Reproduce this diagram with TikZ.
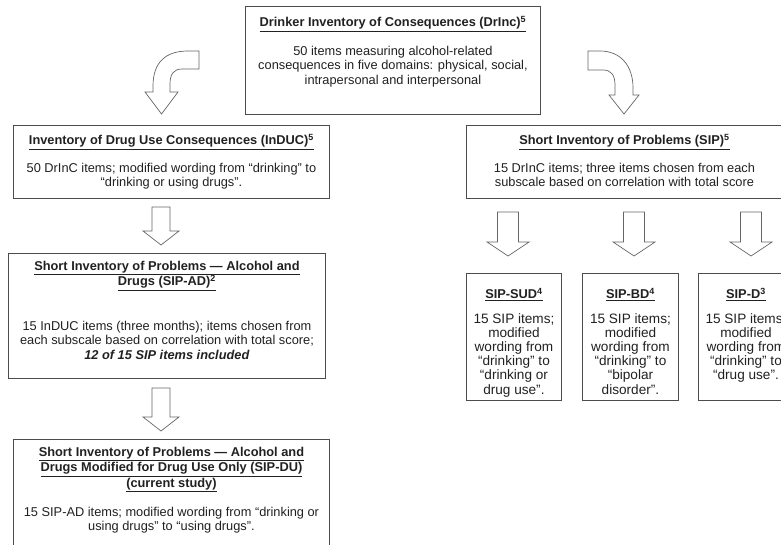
\documentclass[tikz,border=0pt]{standalone}
\usepackage{fontspec}
\setmainfont{Liberation Sans}
\usetikzlibrary{positioning, calc}

\newcommand\txtfont{\fontsize{12.8}{14.3}\selectfont}
\newcommand\ttlfont{\fontsize{12.8}{15.5}\selectfont\bfseries}
% block arrow: start, tip, shaft half width, head half width
\newcommand\fatarrow[4]{%
  \draw[fatarrow] let \p1=(#1), \p2=(#2) in
    (\x1-#3,\y1) -- (\x1+#3,\y1) -- (\x1+#3,\y2+14pt) -- (\x1+#4,\y2+14pt)
    -- (\x1,\y2) -- (\x1-#4,\y2+14pt) -- (\x1-#3,\y2+14pt) -- cycle;}

\tikzset{
  box/.style={draw=black!70, line width=0.9pt, anchor=north west, inner sep=0pt},
  ttlnode/.style={font=\ttlfont, align=center, anchor=north, inner sep=0pt, text=black!87},
  txtnode/.style={font=\txtfont, align=center, anchor=north, inner sep=0pt, text=black!87},
  subnode/.style={txtnode, font=\fontsize{13.6}{14.2}\selectfont},
  fatarrow/.style={draw=black!60, line width=0.7pt, fill=white, line join=miter}
}

\begin{document}
\begin{tikzpicture}[x=1pt, y=-1pt]
  \useasboundingbox (0,0) rectangle (781,545);
  \clip (0,0) rectangle (781,545);
  \fill[white] (0,0) rectangle (781,545);

  % boxes
  \node[box, minimum width=295pt, minimum height=108pt] (drinc) at (245,6) {};
  \node[box, minimum width=316pt, minimum height=73pt] (induc) at (13,125) {};
  \node[box, minimum width=316pt, minimum height=73pt] (sip) at (466,125) {};
  \node[box, minimum width=317pt, minimum height=125pt] (sipad) at (8,253) {};
  \node[box, minimum width=316pt, minimum height=130pt] (sipdu) at (13,439) {};
  \node[box, minimum width=95pt, minimum height=127pt] (sipsud) at (466,273) {};
  \node[box, minimum width=96pt, minimum height=127pt] (sipbd) at (582,273) {};
  \node[box, minimum width=95pt, minimum height=127pt] (sipd) at (698,273) {};

  % texts
  \node[ttlnode] (drinc-t) at ([yshift=-10pt]drinc.north)
    {\underline{Drinker Inventory of Consequences (DrInc)\textsuperscript{5}}};
  \node[txtnode] (drinc-b) at ([yshift=-40pt]drinc.north)
    {50 items measuring alcohol-related\\consequences in five domains: physical, social,\\intrapersonal and interpersonal};

  \node[ttlnode] (induc-t) at ([yshift=-9pt]induc.north)
    {\underline{Inventory of Drug Use Consequences (InDUC)\textsuperscript{5}}};
  \node[txtnode] (induc-b) at ([yshift=-38pt]induc.north)
    {50 DrInC items; modified wording from “drinking” to\\“drinking or using drugs”.};

  \node[ttlnode] (sip-t) at ([yshift=-9pt]sip.north)
    {\underline{Short Inventory of Problems (SIP)\textsuperscript{5}}};
  \node[txtnode] (sip-b) at ([yshift=-38pt]sip.north)
    {15 DrInC items; three items chosen from each\\subscale based on correlation with total score};

  \node[ttlnode] (sipad-t) at ([yshift=-8pt]sipad.north)
    {\underline{Short Inventory of Problems — Alcohol and}\\\underline{Drugs (SIP-AD)\textsuperscript{2}}};
  \node[txtnode] (sipad-b) at ([yshift=-68pt]sipad.north)
    {15 InDUC items (three months); items chosen from\\each subscale based on correlation with total score;\\\textbf{\textit{12 of 15 SIP items included}}};

  \node[ttlnode] (sipdu-t) at ([yshift=-8pt]sipdu.north)
    {\underline{Short Inventory of Problems — Alcohol and}\\\underline{Drugs Modified for Drug Use Only (SIP-DU)}\\\underline{(current study)}};
  \node[txtnode] (sipdu-b) at ([yshift=-68pt]sipdu.north)
    {15 SIP-AD items; modified wording from “drinking or\\using drugs” to “using drugs”.};

  \node[ttlnode] (sipsud-t) at ([yshift=-15pt]sipsud.north) {\underline{SIP-SUD\textsuperscript{4}}};
  \node[subnode] (sipsud-b) at ([yshift=-40pt]sipsud.north)
    {15 SIP items;\\modified\\wording from\\“drinking” to\\“drinking or\\drug use”.};
  \node[ttlnode] (sipbd-t) at ([yshift=-15pt]sipbd.north) {\underline{SIP-BD\textsuperscript{4}}};
  \node[subnode] (sipbd-b) at ([yshift=-40pt]sipbd.north)
    {15 SIP items;\\modified\\wording from\\“drinking” to\\“bipolar\\disorder”.};
  \node[ttlnode] (sipd-t) at ([yshift=-15pt]sipd.north) {\underline{SIP-D\textsuperscript{3}}};
  \node[subnode] (sipd-b) at ([yshift=-40pt]sipd.north)
    {15 SIP items;\\modified\\wording from\\“drinking” to\\“drug use”.};

  % curved arrows out of the top box
  \draw[fatarrow] (199,51) -- (188,51) .. controls (166,51) and (153,62) .. (153,86)
    -- (153,92) -- (145,92) -- (161.5,114) -- (178,92) -- (170,92) -- (170,84)
    .. controls (170,74) and (174,69) .. (182,69) -- (199,69) -- cycle;
  \draw[fatarrow] (588,51) -- (600,51) .. controls (620,51) and (633,65) .. (633,88)
    -- (633,95) -- (639,95) -- (624,114) -- (609,95) -- (615,95) -- (615,85)
    .. controls (615,75) and (611,70) .. (603,70) -- (588,70) -- cycle;

  % straight arrows
  \coordinate (a1s) at (161,207);
  \coordinate (a1e) at (161,245);
  \coordinate (a2s) at (161,388);
  \coordinate (a2e) at (161,431);
  \fatarrow{a1s}{a1e}{9pt}{18pt}
  \fatarrow{a2s}{a2e}{9pt}{18pt}
  \foreach \cx/\nm in {508/sud, 634/bd, 751/d} {
    \coordinate (b\nm s) at (\cx,212);
    \coordinate (b\nm e) at (\cx,256);
    \fatarrow{b\nm s}{b\nm e}{10.5pt}{21pt}
  }
\end{tikzpicture}
\end{document}
